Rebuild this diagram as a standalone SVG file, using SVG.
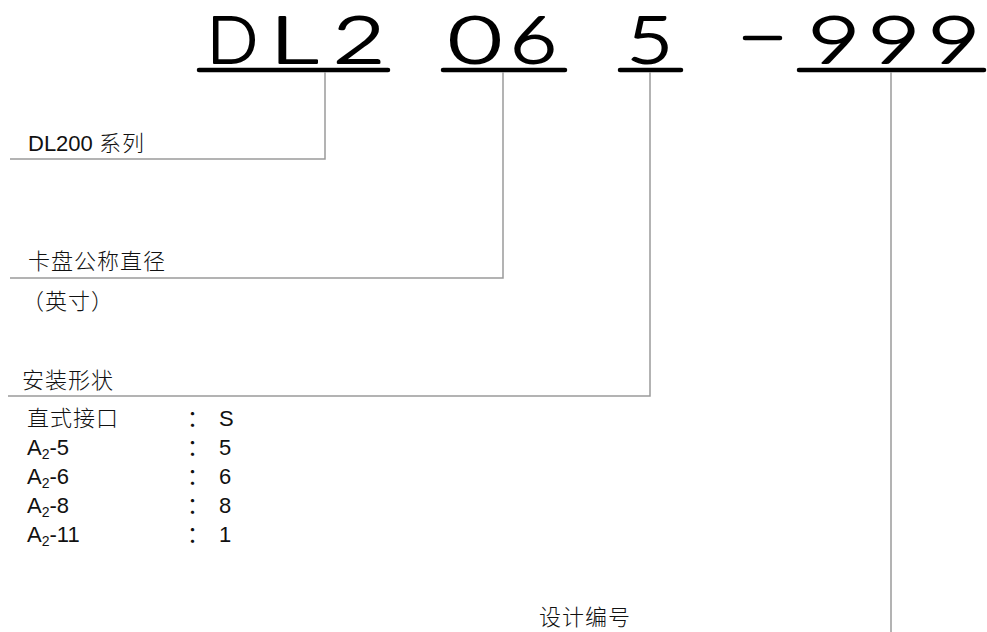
<svg xmlns="http://www.w3.org/2000/svg" width="987" height="632" viewBox="0 0 987 632">
<style>
.hd{font-family:Lato,"Liberation Sans",sans-serif;font-weight:300;font-size:66px;fill:#000;stroke:#000;stroke-width:2;stroke-linejoin:round;text-anchor:middle}
.ul{stroke:#000;stroke-width:4.5;stroke-linecap:round}
.cn{stroke:#9a9a9a;stroke-width:1.5;fill:none}
.t{font-family:"Liberation Sans","Noto Sans CJK SC",sans-serif;font-size:22px;fill:#111}
.c{font-family:"Noto Sans CJK SC",sans-serif;font-weight:300;letter-spacing:1px}
.sub{font-size:14px}
</style>
<rect width="987" height="632" fill="#fff"/>
<g id="header">
<text class="hd" x="232.5" y="63" textLength="51" lengthAdjust="spacingAndGlyphs">D</text>
<text class="hd" x="294" y="63" textLength="48" lengthAdjust="spacingAndGlyphs">L</text>
<text class="hd" x="359" y="63" textLength="52" lengthAdjust="spacingAndGlyphs">2</text>
<text class="hd" x="475" y="63" textLength="54" lengthAdjust="spacingAndGlyphs">0</text>
<text class="hd" x="533.5" y="63" textLength="47" lengthAdjust="spacingAndGlyphs">6</text>
<text class="hd" x="650" y="63" textLength="46" lengthAdjust="spacingAndGlyphs">5</text>
<line class="ul" x1="745" y1="38" x2="780" y2="38"/>
<text class="hd" x="834" y="63" textLength="52" lengthAdjust="spacingAndGlyphs">9</text>
<text class="hd" x="894" y="63" textLength="52" lengthAdjust="spacingAndGlyphs">9</text>
<text class="hd" x="954" y="63" textLength="52" lengthAdjust="spacingAndGlyphs">9</text>
<line class="ul" x1="199" y1="70" x2="388" y2="70"/>
<line class="ul" x1="443" y1="70" x2="565" y2="70"/>
<line class="ul" x1="620" y1="70" x2="681" y2="70"/>
<line class="ul" x1="799" y1="70" x2="984" y2="70"/>
</g>
<g id="connectors">
<polyline class="cn" points="325,72 325,159 10,159"/>
<polyline class="cn" points="503,72 503,278 10,278"/>
<polyline class="cn" points="650,72 650,396 8,396"/>
<line class="cn" x1="891" y1="72" x2="891" y2="632"/>
</g>
<g id="series">
<text class="t" x="28" y="151">DL200 <tspan class="c">系列</tspan></text>
</g>
<g id="diameter">
<text class="t c" x="28" y="269">卡盘公称直径</text>
<text class="t c" x="22" y="309">（英寸）</text>
</g>
<g id="mount">
<text class="t c" x="22" y="388">安装形状</text>
<text class="t c" x="27" y="426">直式接口</text>
<text class="t" x="27" y="455">A<tspan class="sub" dy="4">2</tspan><tspan dy="-4">-5</tspan></text>
<text class="t" x="27" y="484">A<tspan class="sub" dy="4">2</tspan><tspan dy="-4">-6</tspan></text>
<text class="t" x="27" y="513">A<tspan class="sub" dy="4">2</tspan><tspan dy="-4">-8</tspan></text>
<text class="t" x="27" y="542">A<tspan class="sub" dy="4">2</tspan><tspan dy="-4">-11</tspan></text>
<text class="t" x="187" y="426">：</text>
<text class="t" x="187" y="455">：</text>
<text class="t" x="187" y="484">：</text>
<text class="t" x="187" y="513">：</text>
<text class="t" x="187" y="542">：</text>
<text class="t" x="219" y="426">S</text>
<text class="t" x="219" y="455">5</text>
<text class="t" x="219" y="484">6</text>
<text class="t" x="219" y="513">8</text>
<text class="t" x="219" y="542">1</text>
</g>
<g id="design">
<text class="t c" x="539" y="625">设计编号</text>
</g>
</svg>
